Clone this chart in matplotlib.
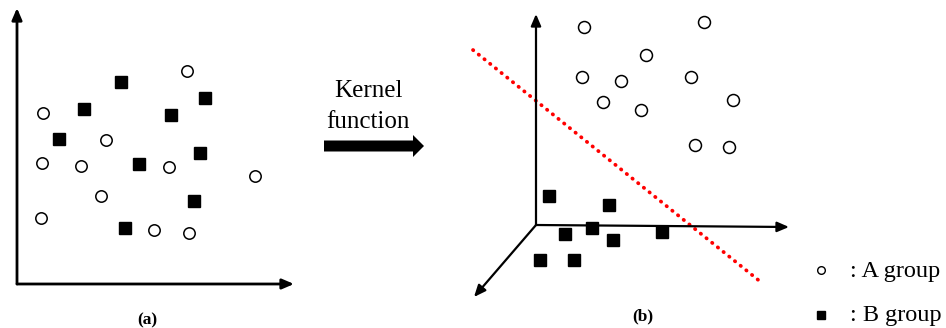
import matplotlib
matplotlib.use("Agg")
import matplotlib.pyplot as plt
from matplotlib.patches import FancyArrow

plt.rcParams['font.family'] = ['Liberation Serif', 'DejaVu Serif']

# ---- data (diagram coordinates) ----
a_group_a_x = [187, 43, 106, 42, 81, 169, 255, 101, 41, 154, 189]
a_group_a_y = [71, 113, 140, 163, 166, 167, 176, 196, 218, 230, 233]
a_group_b_x = [121, 84, 205, 171, 59, 139, 200, 194, 125]
a_group_b_y = [82, 109, 98, 115, 139, 164, 153, 201, 228]

b_group_a_x = [584, 704, 646, 582, 621, 691, 603, 641, 733, 695, 729]
b_group_a_y = [27, 22, 55, 77, 81, 77, 102, 110, 100, 145, 147]
b_group_b_x = [549, 609, 592, 565, 613, 662, 540, 574]
b_group_b_y = [196, 205, 228, 234, 240, 232, 260, 260]

boundary_x = [473, 762]
boundary_y = [50, 283]

panel_labels = ["(a)", "(b)"]
arrow_text = ["Kernel", "function"]
legend_labels = [": A group", ": B group"]

W, H = 946, 328
fig = plt.figure(figsize=(W / 100, H / 100), dpi=100)
ax = fig.add_axes([0, 0, 1, 1])
ax.set_xlim(0, W)
ax.set_ylim(H, 0)
ax.axis('off')

def axis_arrow(start, tip, lw=1.6):
    ax.annotate("", xy=tip, xytext=start,
                arrowprops=dict(arrowstyle='-|>,head_length=0.7,head_width=0.3',
                                lw=lw, color='black', shrinkA=0, shrinkB=0),
                )

# panel (a) axes
axis_arrow((17, 284), (17, 8), lw=2.0)
axis_arrow((17, 284), (294, 284), lw=2.0)

# panel (b) axes
axis_arrow((536, 225), (536, 14))
axis_arrow((536, 225), (789, 227))
axis_arrow((536, 225), (474, 297))

# points panel (a)
ax.plot(a_group_a_x, a_group_a_y, 'o', ms=8.2, mfc='white', mec='black', mew=1.1, ls='none')
ax.plot(a_group_b_x, a_group_b_y, 's', ms=8.6, mfc='black', mec='black', ls='none')

# points panel (b)
ax.plot(b_group_a_x, b_group_a_y, 'o', ms=8.6, mfc='white', mec='black', mew=1.1, ls='none')
ax.plot(b_group_b_x, b_group_b_y, 's', ms=9.0, mfc='black', mec='black', ls='none')

# separating line
ax.plot(boundary_x, boundary_y, color='#ff0000', lw=2.7,
        linestyle=(0, (0.1, 1.85)), dash_capstyle='round')

# kernel function arrow + text
ax.add_patch(FancyArrow(324, 146, 100, 0, width=11, head_width=22, head_length=11,
                        length_includes_head=True, color='black', lw=0))
ax.text(368, 97, arrow_text[0], ha='center', va='baseline', fontsize=18)
ax.text(368, 128, arrow_text[1], ha='center', va='baseline', fontsize=18)

# panel labels
ax.text(147, 320, panel_labels[0], ha='center', va='center', fontsize=12.5, fontweight='bold')
ax.text(643, 316, panel_labels[1], ha='center', va='center', fontsize=12.5, fontweight='bold')

# legend
ax.plot([821], [270], 'o', ms=5.5, mfc='white', mec='black', mew=1.0)
ax.plot([821], [315], 's', ms=5.5, mfc='black', mec='black')
ax.text(850, 271, legend_labels[0], ha='left', va='center', fontsize=17.5)
ax.text(850, 316, legend_labels[1], ha='left', va='center', fontsize=17.5)

fig.savefig("out.png", dpi=100)
